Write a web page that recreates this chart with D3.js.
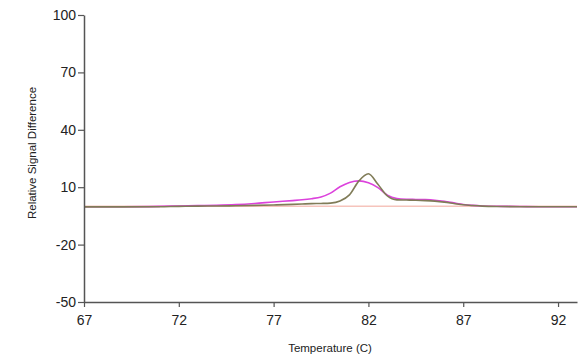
<!DOCTYPE html>
<html>
<head>
<meta charset="utf-8">
<script src="https://cdn.jsdelivr.net/npm/d3@7"></script>
<style>
  html, body { margin: 0; padding: 0; background: #fff; }
  svg { display: block; }
  .tick text { font-family: "Liberation Sans", Arial, sans-serif; font-size: 14px; fill: #222; }
  .axis-title { font-family: "Liberation Sans", Arial, sans-serif; font-size: 11.5px; fill: #222; }
</style>
</head>
<body>
<div id="chart"></div>
<script>
// melt curve data
const temps = [67, 69, 71, 72, 73, 74, 75, 76, 77, 78, 78.5, 79, 79.5, 80, 80.5, 81, 81.5, 82, 82.5, 83, 83.5, 84, 84.5, 85, 85.5, 86, 86.5, 87, 87.5, 88, 89, 90, 91, 92, 93];
const magentaValues = [-0.2, -0.2, 0, 0.2, 0.35, 0.55, 0.9, 1.5, 2.3, 3.0, 3.4, 4.0, 4.9, 6.9, 10.2, 12.5, 13.3, 12.3, 9.8, 5.8, 4.1, 3.7, 3.6, 3.5, 3.2, 2.6, 1.8, 1.0, 0.5, 0.2, 0, -0.1, -0.2, -0.2, -0.2];
const oliveValues = [-0.3, -0.3, -0.2, 0, 0.1, 0.2, 0.3, 0.5, 0.7, 1.0, 1.2, 1.4, 1.5, 1.7, 2.8, 6.0, 13.3, 17.0, 11.5, 5.4, 3.4, 3.3, 3.2, 3.0, 2.7, 2.2, 1.5, 0.8, 0.4, 0.1, -0.1, -0.2, -0.2, -0.2, -0.2];
const xTicks = [67, 72, 77, 82, 87, 92];
const yTicks = [-50, -20, 10, 40, 70, 100];

const width = 587;
const height = 355;
const margin = { top: 15, right: 10, bottom: 53, left: 84 };

const svg = d3.select('#chart')
  .append('svg')
    .attr('width', width)
    .attr('height', height);

const x = d3.scaleLinear()
  .domain([67, 93])
  .range([margin.left, width - margin.right]);

const y = d3.scaleLinear()
  .domain([-50, 100])
  .range([height - margin.bottom, margin.top]);

// zero baseline
svg.append('line')
  .attr('x1', x(67)).attr('x2', x(93))
  .attr('y1', y(0)).attr('y2', y(0))
  .attr('stroke', '#f6c4bc')
  .attr('stroke-width', 1.5);

const line = d3.line()
  .x((d, i) => x(temps[i]))
  .y(d => y(d))
  .curve(d3.curveMonotoneX);

svg.append('path')
  .attr('d', line(magentaValues))
  .attr('fill', 'none')
  .attr('stroke', '#dc42dc')
  .attr('stroke-width', 1.6);

svg.append('path')
  .attr('d', line(oliveValues))
  .attr('fill', 'none')
  .attr('stroke', '#807c58')
  .attr('stroke-width', 1.6);

// axes (plain hyphen for negatives, like the original)
const fmt = d => String(d);

const xAxis = svg.append('g')
  .attr('transform', `translate(0, ${y(-50)})`)
  .call(d3.axisBottom(x).tickValues(xTicks).tickFormat(fmt).tickSize(5).tickPadding(8).tickSizeOuter(0));

const yAxis = svg.append('g')
  .attr('transform', `translate(${x(67)}, 0)`)
  .call(d3.axisLeft(y).tickValues(yTicks).tickFormat(fmt).tickSize(6).tickPadding(2).tickSizeOuter(0));

[xAxis, yAxis].forEach(g => {
  g.select('.domain').attr('stroke', '#555').attr('stroke-width', 1.5);
  g.selectAll('.tick line').attr('stroke', '#555').attr('stroke-width', 1.2);
});

svg.append('text')
  .attr('class', 'axis-title')
  .attr('x', 330)
  .attr('y', 352)
  .attr('text-anchor', 'middle')
  .text('Temperature (C)');

svg.append('text')
  .attr('class', 'axis-title')
  .attr('transform', 'translate(36, 153) rotate(-90)')
  .attr('text-anchor', 'middle')
  .text('Relative Signal Difference');
</script>
</body>
</html>
